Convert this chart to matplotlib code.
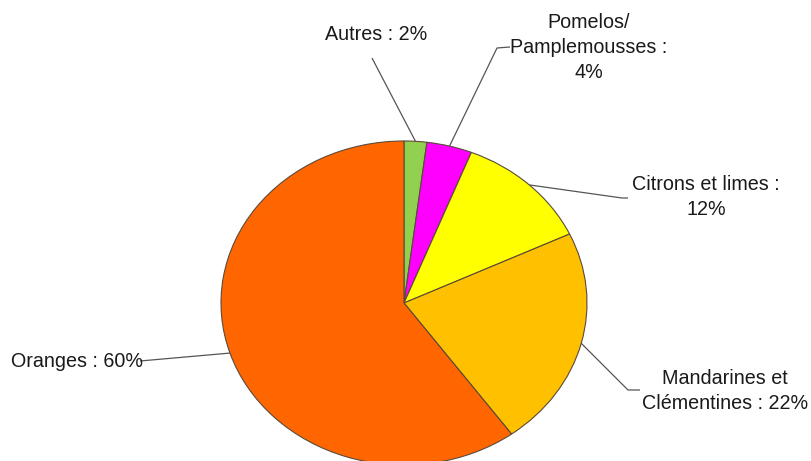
import numpy as np
import matplotlib
matplotlib.use("Agg")
import matplotlib.pyplot as plt

labels = ["Autres : 2%", "Pomelos/\nPamplemousses :\n4%", "Citrons et limes :\n12%",
          "Mandarines et\nClémentines : 22%", "Oranges : 60%"]
values = [2, 4, 12, 22, 60]
colors = ["#92D050", "#FF00FF", "#FFFF00", "#FFC000", "#FF6600"]

# label layout (pixel coords): text centre, leader end, hook end
text_pos = [(376, 34), (589, 47), (706, 197), (725, 391), (77, 361)]
leader_end = [(372, 58), (497, 48), (622, 198), (628, 390), (140, 361)]
hook_end = [None, (510, 47), (628, 198), (640, 390), None]

W, H = 811, 461
cx, cy, rx, ry = 404, 303, 183, 162

fig = plt.figure(figsize=(W / 100, H / 100), dpi=100)
ax = fig.add_axes([0, 0, 1, 1])
plt.rcParams['font.family'] = ['Liberation Sans', 'DejaVu Sans']

wedges, _ = ax.pie(values, colors=colors, startangle=90, counterclock=False,
                   wedgeprops=dict(edgecolor="#5a4a3a", linewidth=0.8))
ax.set_aspect('auto')
ax.set_xlim(-cx / rx, (W - cx) / rx)
ax.set_ylim((cy - H) / ry, cy / ry)
ax.axis('off')

def to_data(px, py):
    return (px - cx) / rx, (cy - py) / ry

for w, lab, tp, le, he in zip(wedges, labels, text_pos, leader_end, hook_end):
    ang = np.deg2rad((w.theta1 + w.theta2) / 2)
    sx, sy = np.cos(ang), np.sin(ang)
    ex, ey = to_data(*le)
    xs, ys = [sx, ex], [sy, ey]
    if he is not None:
        hx, hy = to_data(*he)
        xs.append(hx); ys.append(hy)
    ax.plot(xs, ys, color="#555555", lw=0.9, solid_capstyle='butt', zorder=1)
    tx, ty = to_data(*tp)
    ax.text(tx, ty, lab, ha='center', va='center', fontsize=14.2, color="#1a1a1a",
            linespacing=1.4, family=['Liberation Sans', 'DejaVu Sans'])

fig.savefig("out.png", dpi=100, facecolor="white")
